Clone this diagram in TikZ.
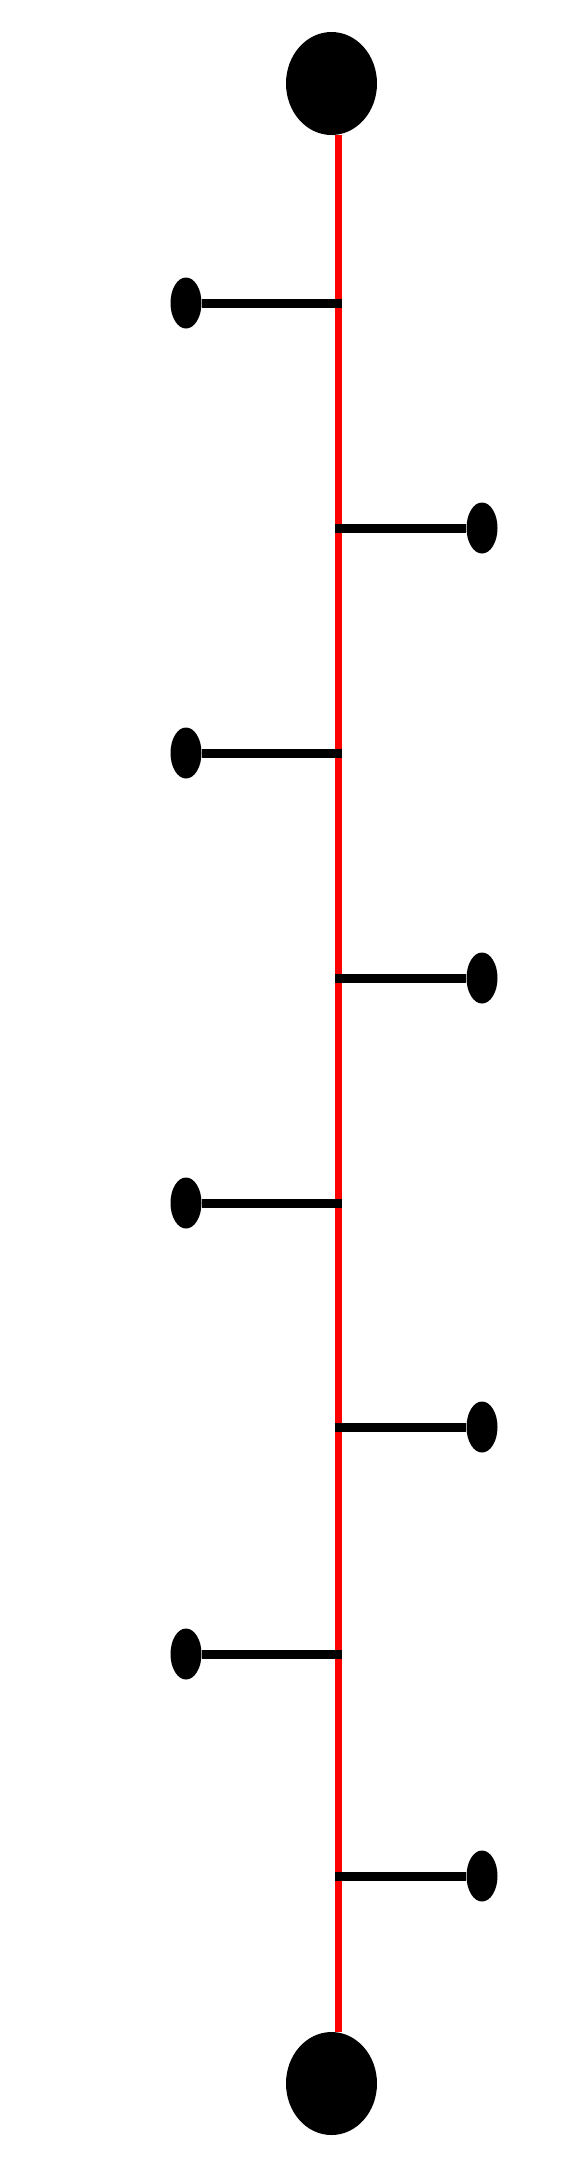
\documentclass[tikz,border=0pt]{standalone}
\usetikzlibrary{shapes.geometric}
\pgfdeclarelayer{bg}
\pgfsetlayers{bg,main}
\tikzset{
  bigdot/.style={ellipse, fill=black, draw=none, inner sep=0pt, minimum width=91pt, minimum height=103pt},
  smalldot/.style={ellipse, fill=black, draw=none, inner sep=0pt, minimum width=31pt, minimum height=51pt},
  spine/.style={draw=red, line width=7pt},
  branch/.style={draw=black, line width=9pt}
}
\begin{document}
\begin{tikzpicture}[x=1pt,y=-1pt]
\useasboundingbox (0,0) rectangle (583,2182);
\node[bigdot] (top) at (331.5,83.5) {};
\node[bigdot] (bot) at (331.5,2083.5) {};
\begin{pgfonlayer}{bg}
\draw[spine] (top.south -| 338,0) -- (bot.north -| 338,0);
\end{pgfonlayer}
% left branches
\foreach \i/\y in {1/303,2/753,3/1203,4/1654}{
  \node[smalldot] (L\i) at (186,\y) {};
  \coordinate (jl\i) at (341.5,\y);
  \draw[branch] (L\i.east) -- (jl\i);
}
% right branches
\foreach \i/\y in {1/528,2/978,3/1427,4/1876}{
  \node[smalldot] (R\i) at (482,\y) {};
  \coordinate (jr\i) at (334.5,\y);
  \draw[branch] (jr\i) -- (R\i.west);
}
\end{tikzpicture}
\end{document}
